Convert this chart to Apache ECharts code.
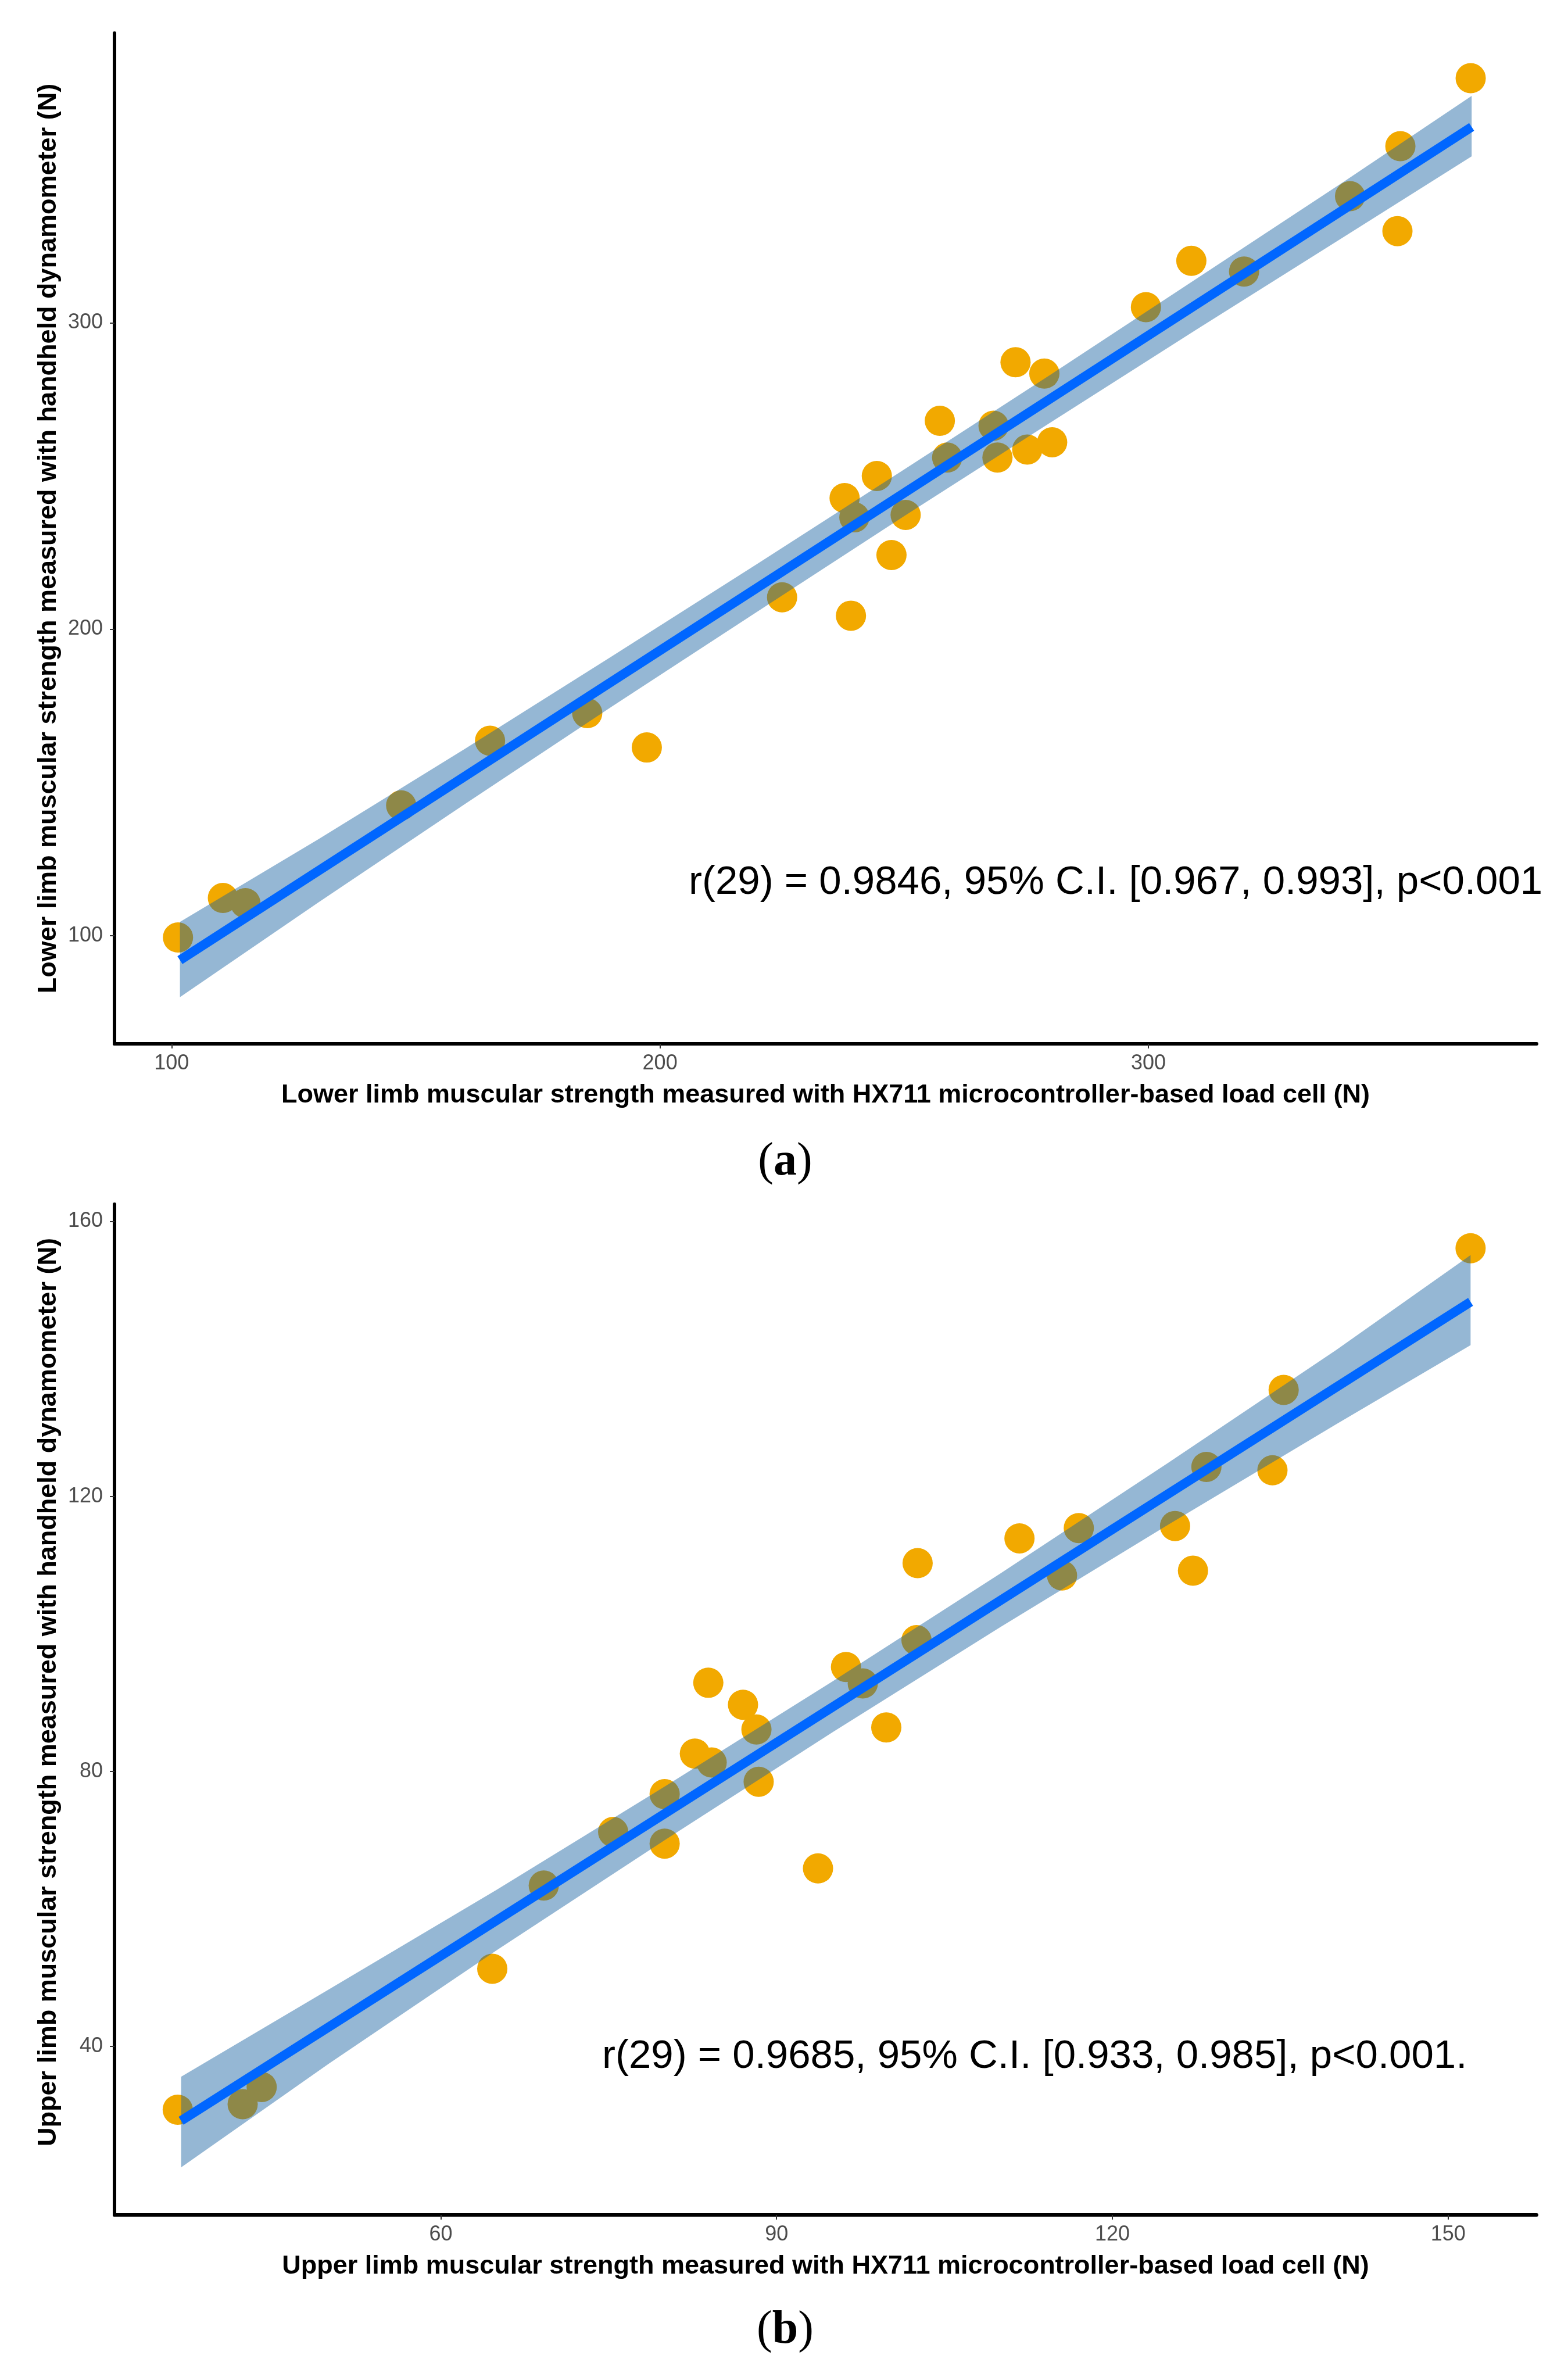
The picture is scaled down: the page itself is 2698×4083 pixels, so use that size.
<!DOCTYPE html>
<html>
<head>
<meta charset="utf-8">
<title>Muscular strength: HX711 load cell vs handheld dynamometer</title>
<script src="https://cdn.jsdelivr.net/npm/echarts@6/dist/echarts.min.js"></script>
<style>
  html, body { margin: 0; padding: 0; background: #fff; }
  #chart { width: 2698px; height: 4083px; }
</style>
</head>
<body>
<div id="chart"></div>
<script>
// (a) lower limb, N
const lowerLoadCell = [101.3, 110.5, 115.1, 147.0, 165.2, 185.1, 197.3, 225.0, 239.1, 237.8,
  239.8, 244.4, 250.3, 247.4, 257.3, 258.8, 268.3, 269.1, 275.2, 280.3,
  272.8, 278.7, 299.5, 308.8, 319.6, 341.3, 351.6, 351.0, 366.0]
const lowerDynamo = [99.4, 112.3, 110.6, 142.5, 163.6, 172.6, 161.4, 210.4, 204.4, 242.8,
  236.5, 250.0, 237.3, 224.2, 268.0, 256.0, 266.4, 256.0, 258.6, 261.0,
  287.1, 283.4, 305.1, 320.2, 316.7, 341.3, 357.6, 329.9, 379.8]
const lowerFitX = [101.7, 366.2]
const lowerFitY = [92.0, 363.9]
const lowerBandX = [101.7, 130, 160, 190, 220, 250, 280, 310, 340, 366.2]
const lowerBandLo = [79.9, 110.8, 142.9, 174.6, 205.8, 236.9, 267.5, 297.9, 328.0, 354.3]
const lowerBandHi = [104.5, 131.4, 160.9, 191.0, 221.4, 252.1, 283.1, 314.5, 346.0, 374.0]
const lowerTicksX = [100, 200, 300]
const lowerTicksY = [100, 200, 300]

// (b) upper limb, N
const upperLoadCell = [36.5, 42.3, 44.0, 64.6, 69.2, 75.4, 80.0, 80.0, 82.7, 84.2,
  83.9, 87.0, 88.2, 88.4, 93.7, 96.2, 97.7, 99.8, 102.6, 102.5,
  111.7, 115.5, 117.0, 125.6, 127.2, 128.4, 134.3, 135.3, 152.0]
const upperDynamo = [30.8, 31.6, 34.1, 51.3, 63.4, 71.2, 76.7, 69.5, 82.6, 81.3,
  92.9, 89.7, 86.1, 78.5, 65.9, 95.2, 92.8, 86.4, 110.3, 99.1,
  113.9, 108.5, 115.4, 115.7, 109.2, 124.3, 123.8, 135.5, 156.1]
const upperFitX = [36.8, 152.0]
const upperFitY = [29.2, 148.3]
const upperBandX = [36.8, 50, 65, 80, 95, 110, 125, 140, 152]
const upperBandLo = [22.4, 37.5, 54.0, 70.0, 85.7, 101.0, 115.9, 130.5, 142.0]
const upperBandHi = [35.6, 48.3, 62.8, 77.8, 93.1, 108.8, 124.9, 141.3, 155.1]
const upperTicksX = [60, 90, 120, 150]
const upperTicksY = [40, 80, 120, 160]

const pointColor = '#f2a900'
const fitColor = '#0066ff'
const bandColor = 'rgba(20, 95, 160, 0.45)'
const font = 'Liberation Sans, Arial, sans-serif'

const pairs = (xs, ys) => xs.map((x, i) => [x, ys[i]])

// ribbon drawn once as a polygon through the axis scales
function bandSeries (idx, xs, lo, hi) {
  return {
    type: 'custom',
    xAxisIndex: idx,
    yAxisIndex: idx,
    z: 3,
    silent: true,
    data: [[xs[0], lo[0]]],
    renderItem: function (params, api) {
      const top = xs.map((x, i) => api.coord([x, hi[i]]))
      const bottom = xs.map((x, i) => api.coord([x, lo[i]])).reverse()
      return {
        type: 'polygon',
        shape: { points: top.concat(bottom) },
        style: { fill: bandColor }
      }
    }
  }
}

function xAxisFor (idx, min, max, ticks, name) {
  return {
    type: 'value',
    gridIndex: idx,
    min: min,
    max: max,
    name: name,
    nameLocation: 'middle',
    nameGap: 66,
    nameTextStyle: { fontFamily: font, fontWeight: 'bold', fontSize: 45, color: '#000' },
    splitLine: { show: false },
    axisLine: { lineStyle: { color: '#000', width: 6 } },
    axisTick: { customValues: ticks, length: 8, lineStyle: { color: '#333', width: 2 } },
    axisLabel: { customValues: ticks, margin: 16, fontFamily: font, fontSize: 36, color: '#4d4d4d' }
  }
}

function yAxisFor (idx, min, max, ticks, name, shift) {
  return {
    type: 'value',
    gridIndex: idx,
    min: min,
    max: max,
    name: name,
    nameLocation: 'middle',
    nameRotate: 90,
    nameGap: 87,
    nameTextStyle: {
      fontFamily: font, fontWeight: 'bold', fontSize: 45, color: '#000',
      padding: [0, 0, 0, shift]
    },
    splitLine: { show: false },
    axisLine: { lineStyle: { color: '#000', width: 6 } },
    axisTick: { customValues: ticks, length: 8, lineStyle: { color: '#333', width: 2 } },
    axisLabel: { customValues: ticks, margin: 20, fontFamily: font, fontSize: 36, color: '#4d4d4d' }
  }
}

const chart = echarts.init(document.getElementById('chart'), null, { renderer: 'canvas' })

const option = {
  backgroundColor: '#fff',
  animation: false,
  grid: [
    { left: 197, top: 57, width: 2447, height: 1739 },
    { left: 197, top: 2072, width: 2447, height: 1739 }
  ],
  xAxis: [
    xAxisFor(0, 88.3, 379.5, lowerTicksX, 'Lower limb muscular strength measured with HX711 microcontroller-based load cell (N)'),
    xAxisFor(1, 30.85, 157.9, upperTicksX, 'Upper limb muscular strength measured with HX711 microcontroller-based load cell (N)')
  ],
  yAxis: [
    yAxisFor(0, 64.7, 394.5, lowerTicksY, 'Lower limb muscular strength measured with handheld dynamometer (N)', 0),
    yAxisFor(1, 15.5, 162.5, upperTicksY, 'Upper limb muscular strength measured with handheld dynamometer (N)', 60)
  ],
  series: [
    {
      type: 'scatter', xAxisIndex: 0, yAxisIndex: 0, z: 2,
      symbolSize: 52, itemStyle: { color: pointColor, opacity: 1 },
      data: pairs(lowerLoadCell, lowerDynamo)
    },
    bandSeries(0, lowerBandX, lowerBandLo, lowerBandHi),
    {
      type: 'line', xAxisIndex: 0, yAxisIndex: 0, z: 4,
      symbol: 'none', lineStyle: { color: fitColor, width: 16 },
      data: pairs(lowerFitX, lowerFitY)
    },
    {
      type: 'scatter', xAxisIndex: 1, yAxisIndex: 1, z: 2,
      symbolSize: 52, itemStyle: { color: pointColor, opacity: 1 },
      data: pairs(upperLoadCell, upperDynamo)
    },
    bandSeries(1, upperBandX, upperBandLo, upperBandHi),
    {
      type: 'line', xAxisIndex: 1, yAxisIndex: 1, z: 4,
      symbol: 'none', lineStyle: { color: fitColor, width: 16 },
      data: pairs(upperFitX, upperFitY)
    }
  ],
  graphic: [
    {
      type: 'text', x: 1185, y: 1519,
      style: {
        text: 'r(29) = 0.9846, 95% C.I. [0.967, 0.993], p<0.001',
        font: '69px ' + font, fill: '#000', textVerticalAlign: 'middle'
      }
    },
    {
      type: 'text', x: 1036, y: 3539,
      style: {
        text: 'r(29) = 0.9685, 95% C.I. [0.933, 0.985], p<0.001.',
        font: '69px ' + font, fill: '#000', textVerticalAlign: 'middle'
      }
    },
    {
      type: 'text', x: 1351, y: 2000,
      style: {
        text: '{p|(}{b|a}{p|)}',
        textAlign: 'center', textVerticalAlign: 'middle',
        rich: {
          p: { fontFamily: 'Liberation Serif, serif', fontSize: 80, color: '#000' },
          b: { fontFamily: 'Liberation Serif, serif', fontSize: 80, fontWeight: 'bold', color: '#000' }
        }
      }
    },
    {
      type: 'text', x: 1351, y: 4010,
      style: {
        text: '{p|(}{b|b}{p|)}',
        textAlign: 'center', textVerticalAlign: 'middle',
        rich: {
          p: { fontFamily: 'Liberation Serif, serif', fontSize: 80, color: '#000' },
          b: { fontFamily: 'Liberation Serif, serif', fontSize: 80, fontWeight: 'bold', color: '#000' }
        }
      }
    }
  ]
}

chart.setOption(option)
</script>
</body>
</html>
